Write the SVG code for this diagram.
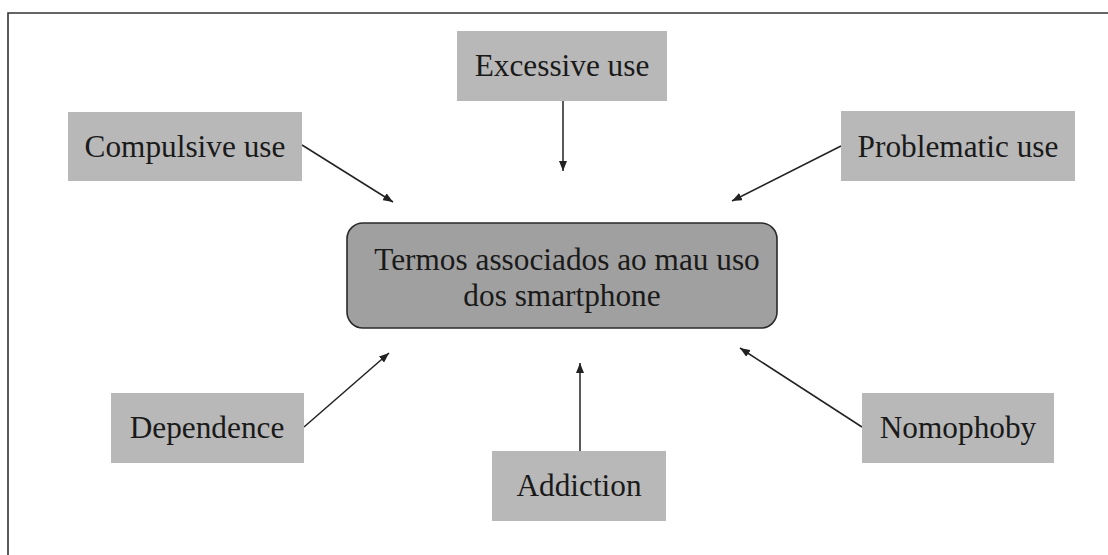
<svg xmlns="http://www.w3.org/2000/svg" width="1108" height="555" viewBox="0 0 1108 555">
<defs>
<style>
.box{fill:#b8b8b8;}
.center{fill:#a0a0a0;stroke:#2a2a2a;stroke-width:1.6;}
.lbl{font-family:"Liberation Serif","Times New Roman",serif;font-size:31.3px;fill:#1a1a1a;text-anchor:middle;}
.conn{stroke:#222;stroke-width:1.5;fill:none;marker-end:url(#arr);}
.frame{stroke:#333;stroke-width:1.6;fill:none;}
</style>
<marker id="arr" viewBox="0 0 10 8" refX="10" refY="4" markerWidth="10" markerHeight="8" markerUnits="userSpaceOnUse" orient="auto">
<path d="M0,0 L10,4 L0,8 Z" fill="#222"/>
</marker>
</defs>
<rect width="1108" height="555" fill="#fff"/>
<path class="frame" d="M8,556 L8,13 L1108,13"/>
<g id="connectors">
<line class="conn" x1="302" y1="145" x2="393" y2="202"/>
<line class="conn" x1="563" y1="101" x2="563" y2="171"/>
<line class="conn" x1="841" y1="146" x2="732" y2="201"/>
<line class="conn" x1="304" y1="427" x2="389" y2="353"/>
<line class="conn" x1="580" y1="451" x2="580" y2="363"/>
<line class="conn" x1="862" y1="427" x2="740" y2="348"/>
</g>
<g id="center">
<rect class="center" x="347" y="223" width="430" height="105" rx="16"/>
<text class="lbl" x="567" y="270">Termos associados ao mau uso</text>
<text class="lbl" x="562" y="306">dos smartphone</text>
</g>
<g id="excessive">
<rect class="box" x="457" y="31" width="210" height="70"/>
<text class="lbl" x="562" y="76">Excessive use</text>
</g>
<g id="compulsive">
<rect class="box" x="68" y="112" width="234" height="69"/>
<text class="lbl" x="185" y="157">Compulsive use</text>
</g>
<g id="problematic">
<rect class="box" x="841" y="111" width="234" height="70"/>
<text class="lbl" x="958" y="157">Problematic use</text>
</g>
<g id="dependence">
<rect class="box" x="111" y="393" width="193" height="70"/>
<text class="lbl" x="207" y="438">Dependence</text>
</g>
<g id="addiction">
<rect class="box" x="492" y="451" width="174" height="70"/>
<text class="lbl" x="579" y="496">Addiction</text>
</g>
<g id="nomophoby">
<rect class="box" x="862" y="393" width="192" height="70"/>
<text class="lbl" x="958" y="438">Nomophoby</text>
</g>
</svg>
